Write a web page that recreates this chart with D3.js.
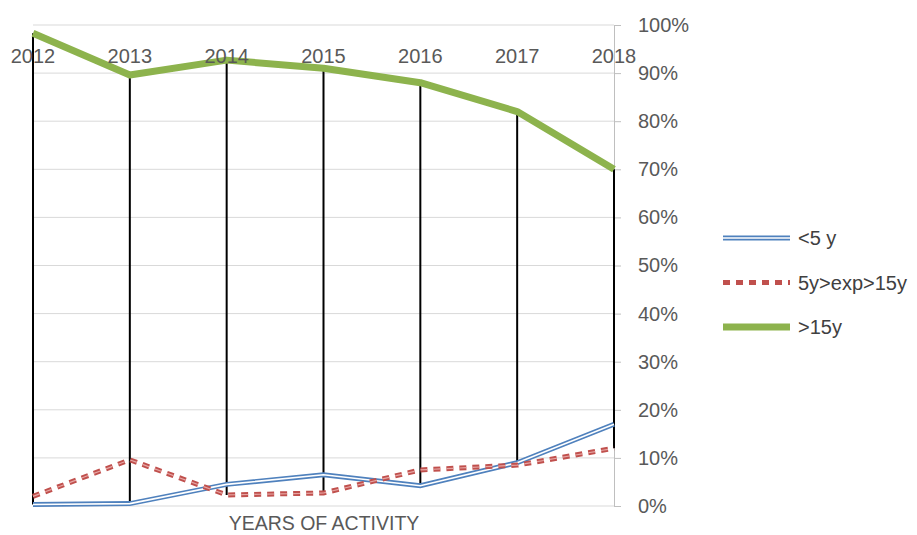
<!DOCTYPE html>
<html>
<head>
<meta charset="utf-8">
<script src="https://cdn.jsdelivr.net/npm/d3@7"></script>
<style>
  body { margin: 0; background: #fff; }
  text { font-family: "Liberation Sans", Arial, sans-serif; }
</style>
</head>
<body>
<div id="chart"></div>
<script>
// chart values (percent)
const years = ["2012", "2013", "2014", "2015", "2016", "2017", "2018"];
const under5 = [0.3, 0.5, 4.5, 6.5, 4.2, 9, 17];
const mid5to15 = [2, 9.6, 2.3, 2.7, 7.5, 8.5, 12];
const over15 = [98.3, 89.6, 92.7, 91, 88, 82, 70];
const yTicks = [0, 10, 20, 30, 40, 50, 60, 70, 80, 90, 100];
const seriesNames = ["<5 y", "5y>exp>15y", ">15y"];

const width = 917, height = 535;
const svg = d3.select("#chart").append("svg")
    .attr("width", width)
    .attr("height", height);

const x = d3.scalePoint().domain(years).range([33, 614]);
const y = d3.scaleLinear().domain([0, 100]).range([506, 25]);

// gridlines
svg.append("g")
    .selectAll("line")
    .data(yTicks)
    .join("line")
    .attr("x1", 33).attr("x2", 614)
    .attr("y1", d => y(d)).attr("y2", d => y(d))
    .attr("stroke", "#d9d9d9")
    .attr("stroke-width", 1);

// right axis
const yAxis = svg.append("g")
    .attr("transform", `translate(614,0)`)
    .call(d3.axisRight(y).tickValues(yTicks).tickSize(7).tickPadding(17).tickFormat(d => d + "%"));
yAxis.select(".domain").attr("stroke", "#bfbfbf");
yAxis.selectAll(".tick line").attr("stroke", "#bfbfbf");
yAxis.selectAll("text")
    .attr("fill", "#595959")
    .style("font-size", "20px");

// high-low lines
const all = [under5, mid5to15, over15];
svg.append("g")
    .selectAll("line")
    .data(years)
    .join("line")
    .attr("x1", d => x(d)).attr("x2", d => x(d))
    .attr("y1", (d, i) => y(d3.max(all, s => s[i])))
    .attr("y2", (d, i) => y(d3.min(all, s => s[i])))
    .attr("stroke", "#000")
    .attr("stroke-width", 2);

const line = d3.line()
    .x((d, i) => x(years[i]))
    .y(d => y(d));

// <5 y : double blue line
svg.append("path").attr("d", line(under5))
    .attr("fill", "none").attr("stroke", "#4f81bd").attr("stroke-width", 5);
svg.append("path").attr("d", line(under5))
    .attr("fill", "none").attr("stroke", "#fff").attr("stroke-width", 1.6);

// 5y>exp>15y : dashed red
svg.append("path").attr("d", line(mid5to15))
    .attr("fill", "none").attr("stroke", "#c0504d").attr("stroke-width", 5)
    .attr("stroke-dasharray", "7,6");
svg.append("path").attr("d", line(mid5to15))
    .attr("fill", "none").attr("stroke", "#e6a5a3").attr("stroke-width", 1.2)
    .attr("stroke-dasharray", "7,6");

// >15y : thick green
svg.append("path").attr("d", line(over15))
    .attr("fill", "none").attr("stroke", "#8db34d").attr("stroke-width", 7)
    .attr("stroke-linejoin", "round");

// year labels along the top (drawn over the lines)
svg.append("g")
    .selectAll("text")
    .data(years)
    .join("text")
    .attr("x", d => x(d))
    .attr("y", 63)
    .attr("text-anchor", "middle")
    .attr("fill", "#595959")
    .style("font-size", "20px")
    .text(d => d);

// legend
const legendY = d3.scalePoint().domain(seriesNames).range([238, 327]);
const legend = svg.append("g");
seriesNames.forEach((name, i) => {
    const ly = legendY(name);
    if (i === 0) {
        legend.append("line").attr("x1", 723).attr("x2", 790).attr("y1", ly).attr("y2", ly)
            .attr("stroke", "#4f81bd").attr("stroke-width", 5);
        legend.append("line").attr("x1", 723).attr("x2", 790).attr("y1", ly).attr("y2", ly)
            .attr("stroke", "#fff").attr("stroke-width", 1.6);
    } else if (i === 1) {
        legend.append("line").attr("x1", 723).attr("x2", 790).attr("y1", ly).attr("y2", ly)
            .attr("stroke", "#c0504d").attr("stroke-width", 5).attr("stroke-dasharray", "7,6");
    } else {
        legend.append("line").attr("x1", 723).attr("x2", 790).attr("y1", ly).attr("y2", ly)
            .attr("stroke", "#8db34d").attr("stroke-width", 7);
    }
    legend.append("text")
        .attr("x", 798).attr("y", ly)
        .attr("dy", "0.35em")
        .attr("fill", "#404040")
        .style("font-size", "20px")
        .text(name);
});

// axis title
svg.append("text")
    .attr("x", 324).attr("y", 530)
    .attr("text-anchor", "middle")
    .attr("fill", "#595959")
    .style("font-size", "19.5px")
    .text("YEARS OF ACTIVITY");
</script>
</body>
</html>
